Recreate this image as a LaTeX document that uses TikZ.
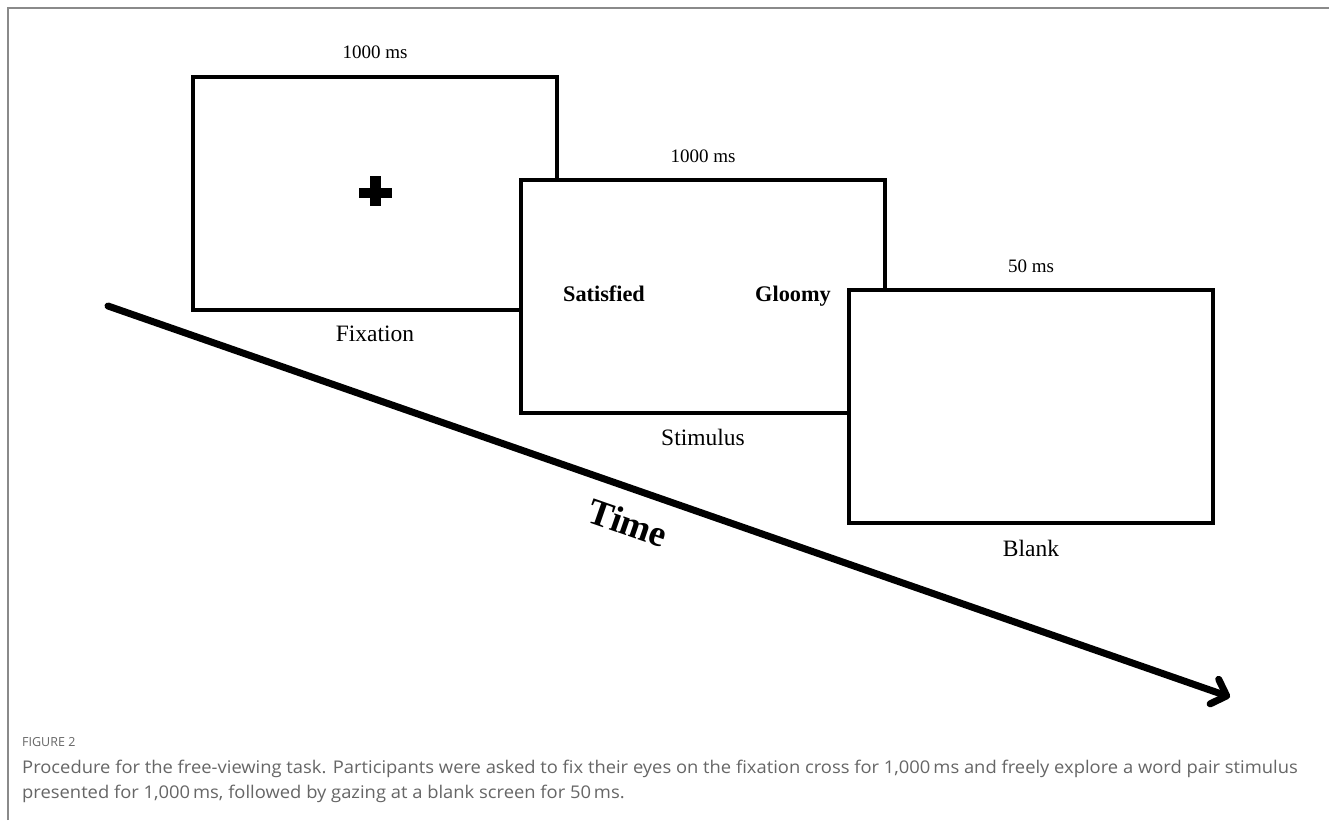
\documentclass[tikz,border=0pt]{standalone}
\usepackage{fontspec}
\setmainfont{Liberation Serif}
\newfontfamily\capfont[Ligatures={NoCommon},FakeStretch=1.05]{Open Sans}
\newfontfamily\figfont{Open Sans}
\usetikzlibrary{arrows.meta}
\definecolor{framegray}{HTML}{8A8A8A}
\definecolor{capgray}{HTML}{666666}
\begin{document}
\begin{tikzpicture}[x=1pt,y=-1pt,
  screen/.style={draw=black,line width=4pt,fill=white,rectangle,minimum width=364pt,minimum height=233pt,inner sep=0pt},
  dur/.style={font=\fontsize{19}{22}\selectfont,inner sep=0pt},
  lab/.style={font=\fontsize{23.5}{27}\selectfont,inner sep=0pt},
  word/.style={font=\fontsize{22.3}{26}\selectfont\bfseries,inner sep=0pt,anchor=base},
  captext/.style={font=\capfont\fontsize{17.5}{20}\selectfont,text=capgray,inner sep=0pt,anchor=base west}
]
\useasboundingbox (0,0) rectangle (1329,820);
\fill[white] (0,0) rectangle (1329,820);
% frame
\draw[framegray,line width=2pt] (8,820) -- (8,8) -- (1329,8);
% screens
\node[screen] (fix) at (375.25,193) {};
\node[screen] (stim) at (703,296) {};
\node[screen] (blank) at (1031.25,406.25) {};
% fixation cross
\fill[black] (358.5,188) rectangle (391.5,197.5);
\fill[black] (370,176) rectangle (380.5,205.5);
% durations and labels
\node[dur] (d1) at (375,52) {1000 ms};
\node[lab] (l1) at (375,334) {Fixation};
\node[dur] (d2) at (703,156) {1000 ms};
\node[lab] (l2) at (703,437) {Stimulus};
\node[dur] (d3) at (1031,266) {50 ms};
\node[lab] (l3) at (1031,548) {Blank};
% words
\node[word] (w1) at (604,301) {Satisfied};
\node[word] (w2) at (793,301) {Gloomy};
% time arrow
\coordinate (ts) at (108,306);
\coordinate (te) at (1230,697);
\draw[line width=7pt,line cap=round,-{Straight Barb[length=13pt,width=26pt,line cap=round,line join=round]}] (ts) -- (te);
\node[font=\fontsize{37}{42}\selectfont\bfseries,rotate=-19.2,inner sep=0pt] (time) at (628,523) {Time};
% caption
\node[captext,font=\figfont\fontsize{12.5}{15}\selectfont] (fig) at (22,746) {FIGURE 2};
\node[captext] (c1) at (22,773) {Procedure for the free-viewing task. Participants were asked to fix their eyes on the fixation cross for 1,000\,ms and freely explore a word pair stimulus};
\node[captext] (c2) at (22,798) {presented for 1,000\,ms, followed by gazing at a blank screen for 50\,ms.};
\end{tikzpicture}
\end{document}
